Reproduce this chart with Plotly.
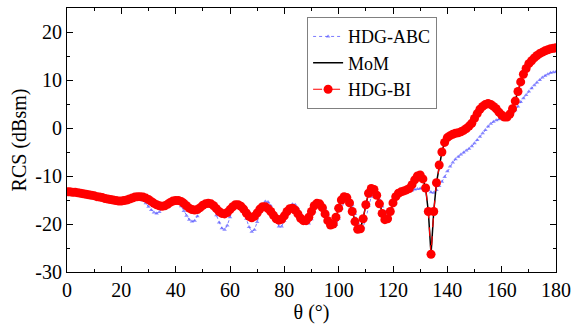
import plotly.graph_objects as go

theta = list(range(0, 181))

hdg_abc = [
    -13.1, -13.1, -13.2, -13.3, -13.4, -13.5, -13.6, -13.7, -13.8, -14.0,
    -14.1, -14.2, -14.4, -14.5, -14.7, -14.8, -14.9, -15.0, -15.1, -15.1,
    -15.1, -15.0, -14.9, -14.7, -14.5, -14.4, -14.4, -14.6, -15.1, -15.7,
    -16.4, -17.1, -17.6, -17.8, -17.5, -16.8, -16.0, -15.4, -15.0, -14.9,
    -15.0, -15.5, -16.3, -17.3, -18.3, -19.1, -19.5, -19.3, -18.4, -17.2,
    -16.2, -15.7, -15.6, -16.0, -16.9, -18.2, -19.7, -20.9, -21.2, -20.3,
    -18.6, -17.0, -16.1, -15.9, -16.3, -17.3, -18.9, -20.6, -21.6, -21.2,
    -19.6, -17.6, -16.0, -15.3, -15.4, -16.2, -17.7, -19.4, -20.5, -20.5,
    -19.3, -17.6, -16.4, -15.9, -16.0, -16.7, -17.9, -19.1, -19.8, -19.9,
    -19.0, -17.4, -16.0, -15.5, -15.7, -16.6, -18.0, -19.5, -20.3, -20.2,
    -18.9, -16.9, -15.3, -14.7, -14.9, -16.0, -17.9, -19.8, -20.9, -20.7,
    -18.8, -16.2, -14.3, -13.6, -13.9, -14.9, -16.3, -17.4, -17.8, -17.4,
    -16.0, -14.7, -14.0, -13.6, -13.4, -13.3, -13.1, -13.0, -12.8, -12.7,
    -12.6, -12.5, -12.5, -12.9, -13.4, -13.5, -12.9, -12.1, -11.2, -10.2,
    -9.0, -8.0, -7.2, -6.5, -6.0, -5.5, -5.1, -4.7, -4.3, -3.8,
    -3.2, -2.5, -1.8, -1.1, -0.4, 0.3, 0.9, 1.3, 1.6, 1.8,
    1.9, 2.0, 2.2, 2.6, 3.1, 3.7, 4.5, 5.4, 6.2, 6.9,
    7.6, 8.3, 8.9, 9.5, 10.0, 10.5, 10.9, 11.2, 11.5, 11.6,
    11.7,
]

hdg_bi = [
    -13.3, -13.3, -13.4, -13.4, -13.5, -13.6, -13.7, -13.8, -13.9, -14.0,
    -14.1, -14.3, -14.4, -14.5, -14.7, -14.8, -14.9, -15.0, -15.1, -15.2,
    -15.2, -15.1, -15.0, -14.8, -14.6, -14.4, -14.3, -14.3, -14.4, -14.6,
    -14.9, -15.3, -15.7, -16.0, -16.2, -16.3, -16.2, -15.9, -15.5, -15.2,
    -15.1, -15.1, -15.3, -15.7, -16.2, -16.7, -17.0, -17.1, -17.0, -16.6,
    -16.1, -15.8, -15.7, -15.8, -16.2, -16.8, -17.4, -17.8, -17.9, -17.6,
    -17.0, -16.4, -16.0, -16.0, -16.3, -16.9, -17.7, -18.4, -18.7, -18.4,
    -17.7, -16.9, -16.4, -16.4, -16.8, -17.4, -18.2, -18.9, -19.2, -19.0,
    -18.3, -17.4, -16.8, -16.7, -17.1, -17.9, -18.8, -19.3, -19.3, -18.6,
    -17.4, -16.2, -15.7, -15.8, -16.6, -17.9, -19.3, -20.2, -20.0, -18.6,
    -16.7, -15.0, -14.3, -14.5, -15.6, -17.4, -19.5, -21.1, -21.0, -18.9,
    -16.0, -13.6, -12.6, -12.8, -14.0, -15.8, -17.8, -19.1, -18.9, -17.4,
    -15.6, -14.3, -13.6, -13.3, -13.1, -12.9, -12.6, -11.8, -10.8, -10.0,
    -9.8, -10.6, -12.5, -17.4, -26.3, -17.4, -11.4, -7.7, -5.0, -3.0,
    -2.0, -1.6, -1.3, -1.1, -1.0, -0.8, -0.5, -0.1, 0.4, 1.0,
    2.0, 3.0, 3.9, 4.5, 4.9, 5.1, 4.9, 4.5, 4.0, 3.3,
    2.7, 2.3, 2.3, 2.9, 4.0, 5.6, 7.6, 9.6, 11.2, 12.4,
    13.4, 14.0, 14.6, 15.1, 15.5, 15.8, 16.1, 16.3, 16.5, 16.6,
    16.7,
]

mom = list(hdg_bi)

x_ticks = [0, 20, 40, 60, 80, 100, 120, 140, 160, 180]
y_ticks = [-30, -20, -10, 0, 10, 20]
y_tick_text = ["-30", "-20", "-10", "0", "10", "20"]

font_family = "Liberation Serif, Times New Roman, serif"

fig = go.Figure()
fig.add_trace(go.Scatter(
    x=theta, y=hdg_abc, name="HDG-ABC", mode="lines+markers",
    line=dict(color="rgba(90,90,255,0.8)", width=1, dash="dot"),
    marker=dict(symbol="triangle-up", size=4, color="rgba(90,90,255,0.7)"),
))
fig.add_trace(go.Scatter(
    x=theta, y=mom, name="MoM", mode="lines",
    line=dict(color="black", width=1.5),
))
fig.add_trace(go.Scatter(
    x=theta, y=hdg_bi, name="HDG-BI", mode="lines+markers",
    line=dict(color="red", width=1.2, dash="dash"),
    marker=dict(symbol="circle", size=9, color="red"),
))

axis_common = dict(
    showline=True, linecolor="black", linewidth=1, mirror="ticks",
    ticks="inside", ticklen=6, tickcolor="black", tickwidth=1,
    showgrid=False, zeroline=False,
    tickfont=dict(family=font_family, size=20, color="black"),
)

fig.update_layout(
    width=581, height=325,
    margin=dict(l=67, r=25, t=8, b=53),
    paper_bgcolor="white", plot_bgcolor="white",
    font=dict(family=font_family, size=20, color="black"),
    xaxis=dict(
        range=[0, 180], tickmode="array", tickvals=x_ticks,
        title=dict(text="θ (°)", font=dict(family=font_family, size=20), standoff=0),
        minor=dict(ticks="inside", ticklen=3, tickcolor="black", dtick=10, tick0=0),
        **axis_common,
    ),
    yaxis=dict(
        range=[-30, 25], tickmode="array", tickvals=y_ticks, ticktext=y_tick_text,
        title=dict(text="RCS (dBsm)", font=dict(family=font_family, size=20), standoff=3),
        minor=dict(ticks="inside", ticklen=3, tickcolor="black", dtick=5, tick0=0),
        **axis_common,
    ),
    legend=dict(
        x=0.491, y=0.965, xanchor="left", yanchor="top",
        bgcolor="white", bordercolor="#808080", borderwidth=1,
        font=dict(family=font_family, size=18, color="black"),
        itemwidth=30, tracegroupgap=0,
    ),
    showlegend=True,
)

fig.write_html("out.html")
